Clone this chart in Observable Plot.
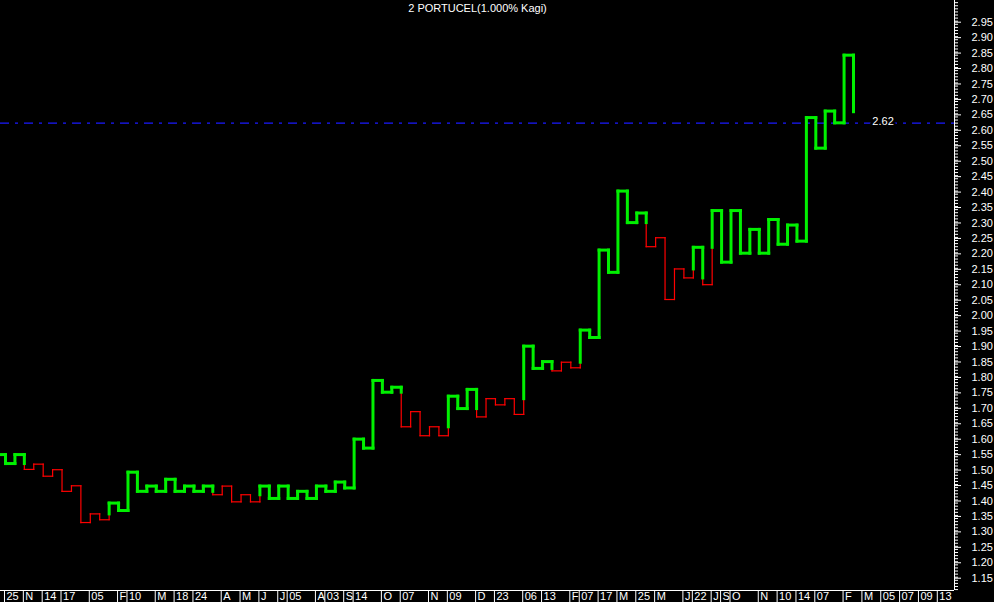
<!DOCTYPE html>
<html><head><meta charset="utf-8">
<script src="https://cdn.jsdelivr.net/npm/d3@7"></script>
<script src="https://cdn.jsdelivr.net/npm/@observablehq/plot@0.6"></script>
<style>html,body{margin:0;padding:0;background:#000;overflow:hidden} svg{display:block}</style>
</head><body><div id="chart"></div>
<script>
const title = "2 PORTUCEL(1.000% Kagi)";
const startValue = 1.547;
const kagiValues = [
  1.518, 1.547, 1.499, 1.516, 1.477, 1.498, 1.428, 1.446, 1.327, 1.355,
  1.336, 1.390, 1.366, 1.490, 1.428, 1.445, 1.428, 1.467, 1.428, 1.445,
  1.428, 1.445, 1.417, 1.445, 1.394, 1.417, 1.394, 1.445, 1.405, 1.445,
  1.405, 1.428, 1.405, 1.445, 1.428, 1.458, 1.439, 1.597, 1.568, 1.787,
  1.749, 1.765, 1.637, 1.686, 1.608, 1.637, 1.608, 1.736, 1.696, 1.758,
  1.669, 1.728, 1.708, 1.728, 1.677, 1.898, 1.826, 1.848, 1.818, 1.846,
  1.828, 1.950, 1.926, 2.209, 2.137, 2.400, 2.298, 2.329, 2.220, 2.249,
  2.049, 2.148, 2.119, 2.218, 2.097, 2.337, 2.170, 2.337, 2.199, 2.276,
  2.199, 2.308, 2.228, 2.290, 2.238, 2.638, 2.539, 2.659, 2.621, 2.840,
  2.657
];
const lastPrice = 2.62;
const yTicks = [1.15, 1.20, 1.25, 1.30, 1.35, 1.40, 1.45, 1.50, 1.55, 1.60, 1.65, 1.70, 1.75,
  1.80, 1.85, 1.90, 1.95, 2.00, 2.05, 2.10, 2.15, 2.20, 2.25, 2.30, 2.35, 2.40, 2.45, 2.50,
  2.55, 2.60, 2.65, 2.70, 2.75, 2.80, 2.85, 2.90, 2.95];
const xTickPos = [0,2,4,6,9,12,13,16,18,20,23,25,27,29,30,33,34,36,37,40,42,45,47,50,52,
  55,57,60,61,63,65,67,69,72,73,75,76,77,80,82,84,86,89,91,93,95,97,99];
const xTickLabels = ["25","N","14","17","05","F","10","M","18","24","A","M","J","J","05","A","03","S","14","O","07","N","09","D","23",
  "06","13","F","07","17","M","25","M","J","22","J","S","O","N","10","14","07","F","M","05","07","09","13"];

const GREEN = "#00f000", RED = "#ff0000";
const xDomain = [-0.53, 100.72];
const yDomain = [1.107, 3.017];

// Build kagi segments (yang = thick green, yin = thin red)
const segs = [];
let state = "yang";
let shoulder = startValue, waist = -Infinity, prev = startValue;
segs.push({x1: xDomain[0], x2: 0, y1: startValue, y2: startValue, s: state});
kagiValues.forEach((b, k) => {
  const a = prev;
  if (b > a) {
    if (state === "yin" && b > shoulder) {
      segs.push({x1: k, x2: k, y1: a, y2: shoulder, s: "yin"});
      segs.push({x1: k, x2: k, y1: shoulder, y2: b, s: "yang"});
      state = "yang";
    } else segs.push({x1: k, x2: k, y1: a, y2: b, s: state});
    shoulder = b;
  } else {
    if (state === "yang" && b < waist) {
      segs.push({x1: k, x2: k, y1: a, y2: waist, s: "yang"});
      segs.push({x1: k, x2: k, y1: waist, y2: b, s: "yin"});
      state = "yin";
    } else segs.push({x1: k, x2: k, y1: a, y2: b, s: state});
    waist = b;
  }
  if (k < kagiValues.length - 1) segs.push({x1: k, x2: k + 1, y1: b, y2: b, s: state});
  prev = b;
});
const minorTicks = d3.range(111, 302).map(i => i / 100);
const lastCol = kagiValues.length - 1;

const chart = Plot.plot({
  width: 994, height: 602,
  marginLeft: 0, marginRight: 40, marginTop: 0, marginBottom: 12,
  style: {background: "#000", color: "#fff", fontFamily: "'Liberation Sans', Arial, sans-serif", fontSize: "11px"},
  x: {domain: xDomain, range: [0, 954]},
  y: {domain: yDomain},
  marks: [
    Plot.ruleY([lastPrice], {stroke: "#1a1aff", strokeWidth: 1.2, strokeDasharray: "9,6,3,6"}),
    Plot.link(segs.filter(d => d.s === "yin"), {x1: "x1", y1: "y1", x2: "x2", y2: "y2", stroke: RED, strokeWidth: 1.2, strokeLinecap: "square"}),
    Plot.link(segs.filter(d => d.s === "yang"), {x1: "x1", y1: "y1", x2: "x2", y2: "y2", stroke: GREEN, strokeWidth: 3, strokeLinecap: "square"}),
    Plot.text([lastPrice], {x: () => lastCol + 2, y: d => d, text: d => d.toFixed(2), dy: -2, textAnchor: "start", fill: "#fff", stroke: "#000", strokeWidth: 5, fontSize: 11}),
    Plot.ruleX([xDomain[1]], {stroke: "#fff"}),
    Plot.ruleY([yDomain[0]], {stroke: "#fff"}),
    Plot.axisY({anchor: "right", ticks: minorTicks, tickSize: 3, tickFormat: () => "", stroke: "#fff"}),
    Plot.axisY({anchor: "right", ticks: yTicks, tickSize: 6, tickPadding: 11, dy: 1, tickFormat: d => d.toFixed(2), fill: "#fff", stroke: "#fff", fontSize: 11}),
    Plot.axisX({anchor: "bottom", ticks: xTickPos, tickSize: 12, tickFormat: () => "", dx: -1, stroke: "#fff"}),
    Plot.text(xTickPos, {x: d => d, text: (d, i) => xTickLabels[i], frameAnchor: "bottom", dy: 6, dx: 1, textAnchor: "start", lineAnchor: "middle", fill: "#fff", fontSize: 11}),
    Plot.text([title], {frameAnchor: "top", dy: 8, lineAnchor: "middle", fill: "#fff", fontSize: 11})
  ]
});
document.getElementById("chart").appendChild(chart);
</script>
</body></html>
